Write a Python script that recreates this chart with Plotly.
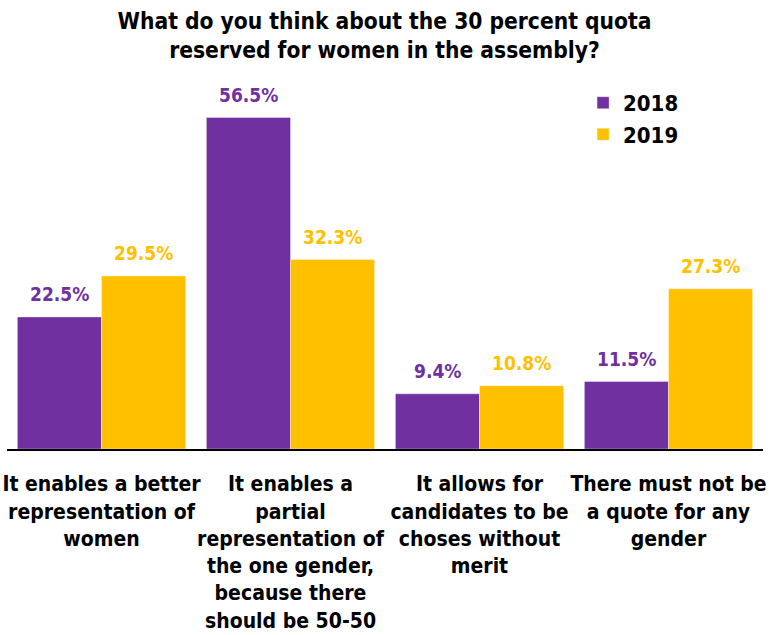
import plotly.graph_objects as go

categories = [
    "It enables a better<br>representation of<br>women",
    "It enables a<br>partial<br>representation of<br>the one gender,<br>because there<br>should be 50-50",
    "It allows for<br>candidates to be<br>choses without<br>merit",
    "There must not be<br>a quote for any<br>gender",
]
values_2018 = [22.5, 56.5, 9.4, 11.5]
values_2019 = [29.5, 32.3, 10.8, 27.3]

PURPLE = "#7030A0"
GOLD = "#FFC000"
FONT = "DejaVu Sans Condensed, DejaVu Sans, sans-serif"

series = [("2018", values_2018, PURPLE, -42), ("2019", values_2019, GOLD, 42)]

fig = go.Figure()
for name, vals, color, _ in series:
    fig.add_trace(go.Bar(
        name=name,
        x=categories,
        y=vals,
        marker=dict(color=color, line=dict(color="rgba(255,255,255,0.35)", width=1)),
    ))

# value labels above each bar, shifted onto its half of the group
for name, vals, color, dx in series:
    for cat, v in zip(categories, vals):
        fig.add_annotation(
            x=cat, y=v, text=f"<b>{v}%</b>", showarrow=False,
            xshift=dx, yshift=10, yanchor="bottom",
            font=dict(color=color, size=19, family=FONT),
        )

fig.update_layout(
    width=769,
    height=635,
    margin=dict(l=7, r=6, t=97, b=186, autoexpand=False),
    paper_bgcolor="white",
    plot_bgcolor="white",
    barmode="group",
    bargap=0.11,
    bargroupgap=0,
    font=dict(family=FONT, color="black", size=21),
    title=dict(
        text="<b>What do you think about the 30 percent quota<br>reserved for women in the assembly?</b>",
        x=0.5, xanchor="center", y=0.955, yanchor="top",
        font=dict(size=22.6, family=FONT, color="black"),
    ),
    legend=dict(
        x=0.762, xanchor="left", y=1.043, yanchor="top",
        font=dict(size=22, family=FONT, color="black", weight="bold"),
        bgcolor="rgba(0,0,0,0)",
        tracegroupgap=2,
    ),
    showlegend=True,
)
fig.update_xaxes(
    showline=True, linecolor="black", linewidth=2,
    ticks="", showgrid=False, automargin=False, tickangle=0,
    tickfont=dict(size=21, family=FONT, color="black", weight="bold"),
    ticklabelstandoff=15,
)
fig.update_yaxes(visible=False, range=[0, 60], showgrid=False)

fig.write_html("out.html")
